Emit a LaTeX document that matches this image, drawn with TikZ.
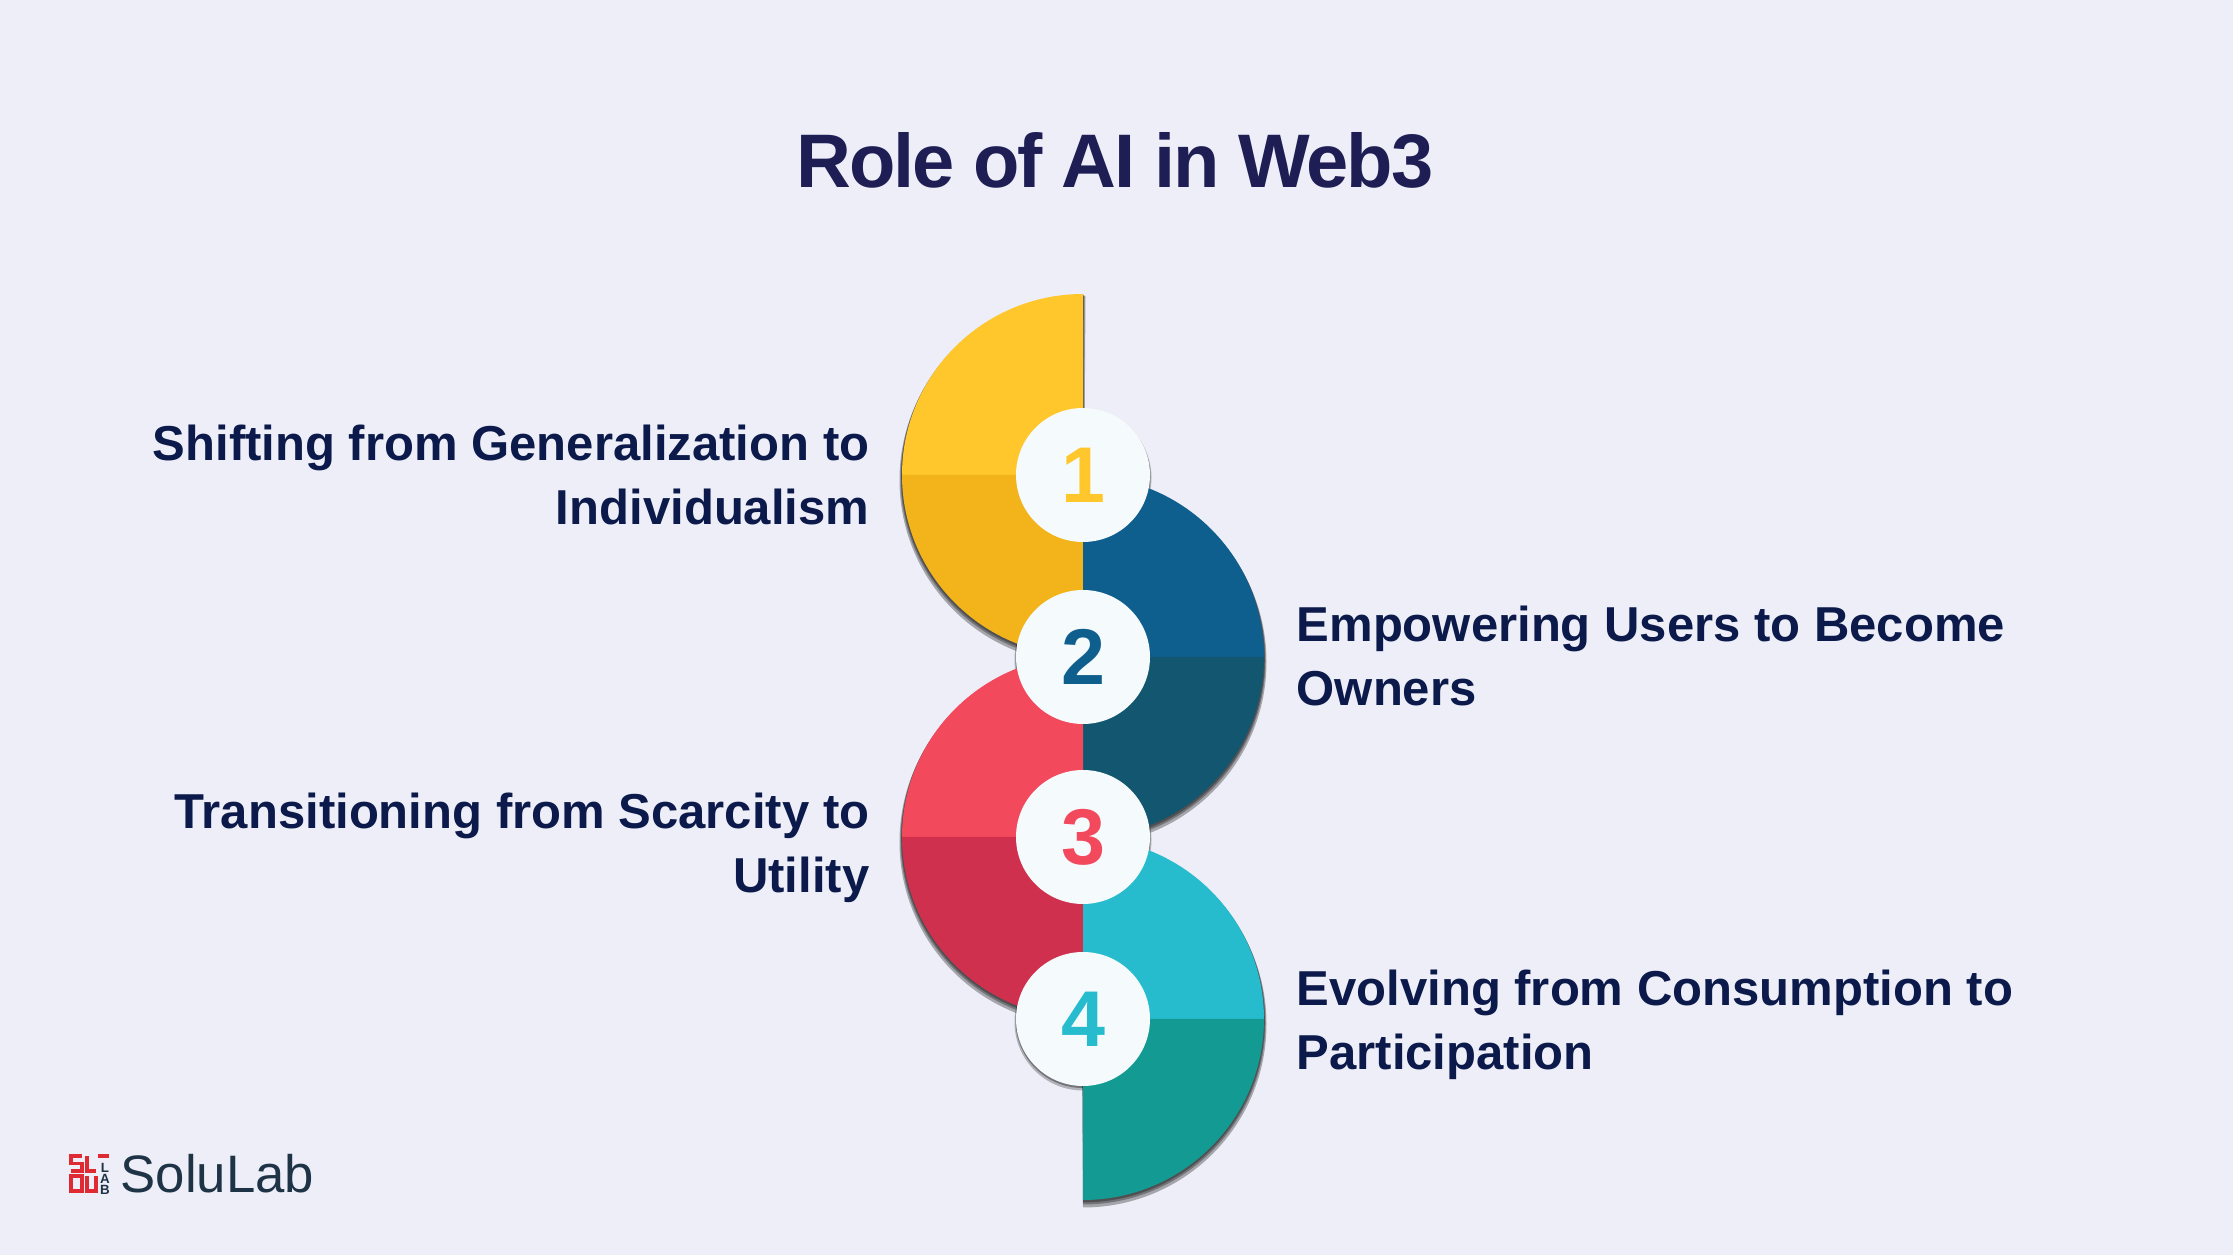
\documentclass[tikz,border=0pt]{standalone}
\usepackage{fontspec}
\setmainfont{Liberation Sans}
\definecolor{pagebg}{HTML}{EDEEF7}
\definecolor{titleink}{HTML}{1E1E55}
\definecolor{labelink}{HTML}{0B1A4A}
\definecolor{logoink}{HTML}{1F3347}
\definecolor{logored}{HTML}{DF2A33}
\definecolor{discwhite}{HTML}{F5FAFD}
\definecolor{yellowup}{HTML}{FFC72C}
\definecolor{yellowlo}{HTML}{F2B31B}
\definecolor{blueup}{HTML}{0F5F8E}
\definecolor{bluelo}{HTML}{135670}
\definecolor{redup}{HTML}{F2495C}
\definecolor{redlo}{HTML}{CF304E}
\definecolor{cyanup}{HTML}{26BCCE}
\definecolor{cyanlo}{HTML}{139A93}
\tikzset{
  numdisc/.style={circle,fill=discwhite,minimum size=1.34cm,inner sep=0pt,font=\fontsize{22.5}{22.5}\selectfont\bfseries},
  leftlabel/.style={anchor=east,align=right,text=labelink,inner sep=0pt,font=\fontsize{13.95}{18.2}\selectfont\bfseries},
  rightlabel/.style={anchor=west,align=left,text=labelink,inner sep=0pt,font=\fontsize{13.95}{18.2}\selectfont\bfseries},
  logostroke/.style={draw=logored,line width=1.1pt},
  logoletter/.style={inner sep=0pt,text=logoink,font=\fontsize{3.8}{3.8}\selectfont\bfseries},
}
% soft edge of a half disc: centre, side (+1 right, -1 left)
\newcommand{\discshadow}[2]{%
 \foreach \s in {.025,.015,.008} {%
  \fill [black,opacity=.3,shift={(#1)}] (-\s*#2,1.81-\s) -- (0,1.81-\s) arc (90:90-180*#2:1.81+\s) -- cycle;%
 }%
}
% half disc: centre, side, upper colour, lower colour
\newcommand{\halfdisc}[4]{%
 \fill [#3,shift={(#1)}] (0,0) -- (0,1.81) arc (90:90-90*#2:1.81) -- cycle;%
 \fill [#4,shift={(#1)}] (0,0) -- (0,-1.81) arc (-90:-90+90*#2:1.81) -- cycle;%
}
\begin{document}
\begin{tikzpicture}
  \useasboundingbox (0,0) rectangle (22.33,12.55);
  \fill [pagebg] (0,0) rectangle (22.33,12.55);
  \node (title) at (11.15,10.95) {\fontsize{21.6}{21.6}\selectfont\bfseries\addfontfeature{LetterSpace=-2.9}\color{titleink}Role of AI in Web3};
  % shadows go under all the half discs
  \foreach \y in {7.80,5.98,4.18,2.36} {
    \fill [black,opacity=.25] (10.83,\y-.03) circle (.685);
    \fill [black,opacity=.35] (10.83,\y-.015) circle (.675);
  }
  \discshadow{10.83,7.80}{-1};
  \discshadow{10.83,5.98}{1};
  \discshadow{10.83,4.18}{-1};
  \discshadow{10.83,2.36}{1};
  \halfdisc{10.83,7.80}{-1}{yellowup}{yellowlo};
  \halfdisc{10.83,5.98}{1}{blueup}{bluelo};
  \halfdisc{10.83,4.18}{-1}{redup}{redlo};
  \halfdisc{10.83,2.36}{1}{cyanup}{cyanlo};
  % number discs
  \foreach \y/\n/\c in {7.80/1/yellowup,5.98/2/blueup,4.18/3/redup,2.36/4/cyanup} {
    \node (n\n) [numdisc,text=\c] at (10.83,\y) {\n};
  }
  \node (lab1) [leftlabel] at (8.70,7.80) {Shifting from Generalization to\\Individualism};
  \node (lab2) [rightlabel] at (12.96,5.99) {Empowering Users to Become\\Owners};
  \node (lab3) [leftlabel] at (8.70,4.07) {Transitioning from Scarcity to\\Utility};
  \node (lab4) [rightlabel] at (12.96,2.30) {Evolving from Consumption to\\Participation};
  % logo
  \draw [logostroke] (.82,.99) -- (.71,.99) -- (.71,.915) -- (.82,.915) -- (.82,.84) -- (.71,.84);
  \draw [logostroke] (.87,.99) -- (.87,.84) -- (.96,.84);
  \draw [logostroke] (.98,.99) -- (1.09,.99);
  \draw [logostroke] (.71,.79) -- (.82,.79) -- (.82,.64) -- (.71,.64) -- cycle;
  \draw [logostroke] (.87,.79) -- (.87,.64) -- (.96,.64) -- (.96,.79);
  \foreach \y/\t in {.87/L,.76/A,.65/B} {
    \node (logo\t) [logoletter] at (1.05,\y) {\t};
  }
  \node (brand) [anchor=west,inner sep=0pt,text=logoink] at (1.20,.81) {\fontsize{15}{15}\selectfont SoluLab};
\end{tikzpicture}
\end{document}
